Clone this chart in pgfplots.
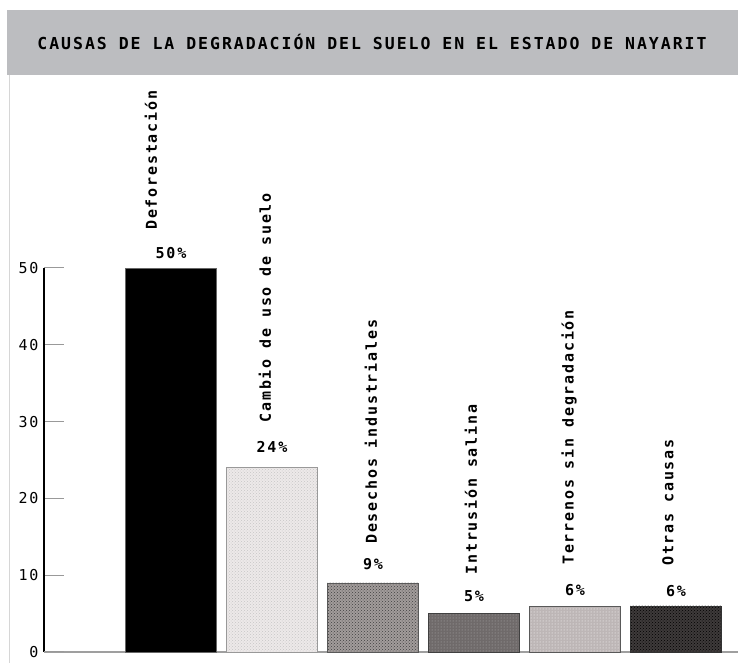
\documentclass[border=0pt]{standalone}
\usepackage{pgfplots}
\pgfplotsset{compat=1.18}
\usepackage{fontspec}
\setmainfont{DejaVu Sans}
\newfontfamily\pix{DejaVu Sans Mono}[LetterSpace=12]
\usetikzlibrary{patterns}
\definecolor{headgray}{HTML}{BCBDC0}
\definecolor{edgegray}{HTML}{D6D6D6}
\definecolor{cB}{HTML}{EDE9E9}
\definecolor{cC}{HTML}{A29C9B}
\definecolor{cD}{HTML}{6F6A6A}
\definecolor{cE}{HTML}{BDB6B6}
\definecolor{cF}{HTML}{3E3A3A}
\newcommand{\lab}[5]{\node[rotate=90,anchor=west,inner sep=0pt,font=\pix\bfseries\fontsize{15}{15}\selectfont] at ([xshift=#4pt,yshift=#5pt]axis cs:#1,#2) {#3};}
\begin{document}
\begin{tikzpicture}[x=1pt,y=1pt]
\useasboundingbox (0,0) rectangle (738,663);
\fill[headgray] (7,588) rectangle (738,653);
\draw[edgegray,line width=1pt] (9,0) -- (9,588);
\node[font=\pix\bfseries\fontsize{16.5}{16.5}\selectfont] at (372,621) {CAUSAS DE LA DEGRADACIÓN DEL SUELO EN EL ESTADO DE NAYARIT};
\begin{axis}[
  at={(44pt,11pt)}, anchor=south west,
  x=101pt, y=7.68pt,
  xmin=-1.257, xmax=5.614, ymin=0, ymax=50,
  axis x line*=bottom, axis y line*=left,
  axis line style={-},
  x axis line style={draw=gray!75, line width=1.3pt},
  y axis line style={draw=black, line width=2pt},
  xtick=\empty,
  ytick={10,20,30,40}, extra y ticks={0,50},
  tick align=inside, major tick length=20pt,
  ytick style={draw=gray!80, line width=1pt},
  extra y tick style={tick style={draw=black, line width=1.6pt}},
  /pgf/number format/assume math mode=true,
  yticklabel style={font=\pix\fontsize{15}{15}\selectfont, xshift=-2pt},
  clip=false,
  ybar, bar width=91pt, bar shift=0pt,
  nodes near coords={\pgfmathprintnumber{\pgfplotspointmeta}\%},
  every node near coord/.append style={font=\pix\bfseries\fontsize{15}{15}\selectfont, anchor=center},
]
\addplot[fill=black, draw=black!60, every node near coord/.append style={yshift=15pt}] coordinates {(0,50)};
\addplot[fill=cB, draw=gray!80, postaction={pattern=crosshatch dots, pattern color=gray!45}, every node near coord/.append style={yshift=21pt}] coordinates {(1,24)};
\addplot[fill=cC, draw=gray!70!black, postaction={pattern=crosshatch dots, pattern color=gray!50!black}, every node near coord/.append style={yshift=19pt}] coordinates {(2,9)};
\addplot[fill=cD, draw=gray!50!black, postaction={pattern=dots, pattern color=gray!60}, every node near coord/.append style={yshift=17pt}] coordinates {(3,5)};
\addplot[fill=cE, draw=gray!70!black, postaction={pattern=dots, pattern color=white}, every node near coord/.append style={yshift=16pt}] coordinates {(4,6)};
\addplot[fill=cF, draw=gray!40!black, postaction={pattern=crosshatch dots, pattern color=black}, every node near coord/.append style={yshift=15pt}] coordinates {(5,6)};
\lab{0}{50}{Deforestación}{-20}{38}
\lab{1}{24}{Cambio de uso de suelo}{-7}{45}
\lab{2}{9}{Desechos industriales}{-2}{39}
\lab{3}{5}{Intrusión salina}{-3}{39}
\lab{4}{6}{Terrenos sin degradación}{-6}{41}
\lab{5}{6}{Otras causas}{-8}{40}
\end{axis}
\end{tikzpicture}
\end{document}
